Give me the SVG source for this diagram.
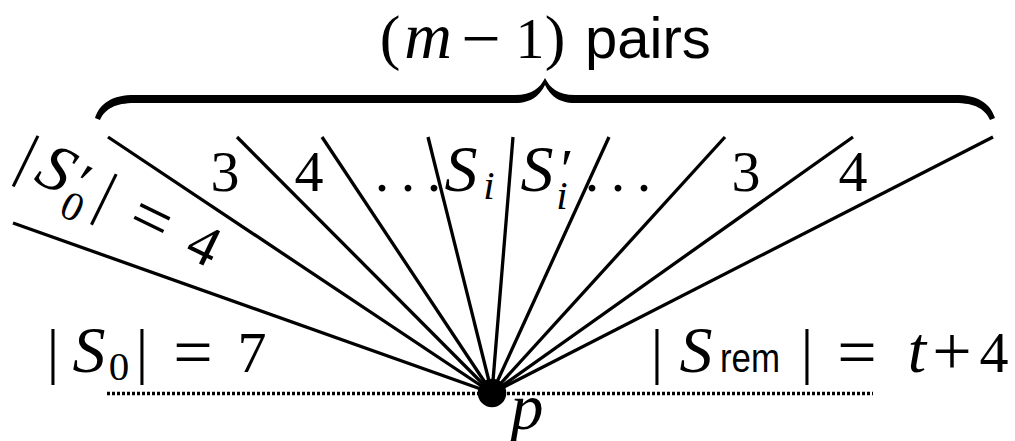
<svg xmlns="http://www.w3.org/2000/svg" width="1015" height="441" viewBox="0 0 1015 441">
<style>
.ln{stroke:#000;stroke-width:3.3;fill:none;stroke-linecap:butt}
.dot{stroke:#000;stroke-width:3.4;fill:none;stroke-dasharray:3 2}
.m{font-family:"Liberation Serif","DejaVu Serif",serif;font-size:58px;fill:#000}
.it{font-style:italic}
.big{font-size:66px}
.op{font-size:70px}
.bar{font-size:62px}
.sub{font-size:41px}
.sf{font-family:"Liberation Sans","DejaVu Sans",sans-serif;font-style:normal}
</style>
<rect width="1015" height="441" fill="#fff"/>
<g id="brace">
<path d="M95 118 C100 103 112 95 135 95 L515 95 C532 95 540 88 545 78 C550 88 558 95 575 95 L955 95 C978 95 990 103 995 118 L990 120 C985 109 975 103 955 103 L575 103 C558 103 550 95 545 85 C540 95 532 103 515 103 L135 103 C115 103 105 109 100 120 Z" fill="#000"/>
</g>
<g id="title">
<text class="m" y="58" text-anchor="middle"><tspan x="390" class="bar">(</tspan><tspan x="428" class="it big">m</tspan><tspan x="481" y="62" class="op">−</tspan><tspan x="530" y="58">1</tspan><tspan x="555" class="bar">)</tspan></text>
<text class="m sf" x="585" y="58">pairs</text>
</g>
<g id="connectors">
<line class="dot" x1="107" y1="393.5" x2="873" y2="393.5"/>
<line class="ln" x1="13" y1="223" x2="492" y2="393"/>
<line class="ln" x1="108" y1="137" x2="492" y2="393"/>
<line class="ln" x1="237" y1="137" x2="492" y2="393"/>
<line class="ln" x1="322" y1="137" x2="492" y2="393"/>
<line class="ln" x1="428" y1="137" x2="492" y2="393"/>
<line class="ln" x1="513" y1="137" x2="492" y2="393"/>
<line class="ln" x1="609" y1="137" x2="492" y2="393"/>
<line class="ln" x1="725" y1="137" x2="492" y2="393"/>
<line class="ln" x1="853" y1="137" x2="492" y2="393"/>
<line class="ln" x1="993" y1="137" x2="492" y2="393"/>
</g>
<g id="node-p">
<circle cx="492" cy="393" r="14.3" fill="#000"/>
<text class="m it big" x="527" y="429" text-anchor="middle">p</text>
</g>
<g id="sector-labels">
<text class="m" y="191" text-anchor="middle"><tspan x="225">3</tspan><tspan x="309">4</tspan><tspan x="382">.</tspan><tspan x="408">.</tspan><tspan x="434">.</tspan><tspan x="461" class="it big">S</tspan><tspan x="537" class="it big">S</tspan><tspan x="567" y="189">′</tspan><tspan x="592" y="191">.</tspan><tspan x="618">.</tspan><tspan x="644">.</tspan><tspan x="746">3</tspan><tspan x="853">4</tspan></text>
<text class="m it sub" x="489" y="199" text-anchor="middle">i</text>
<text class="m it sub" x="562" y="209" text-anchor="middle">i</text>
</g>
<g id="label-S0prime" transform="translate(19.1,174.5) rotate(26)">
<text class="m" y="0" text-anchor="middle"><tspan x="0" class="bar">|</tspan><tspan x="31" class="it big">S</tspan><tspan x="60">′</tspan><tspan x="87" class="bar">|</tspan><tspan x="138.5" y="4" class="op">=</tspan><tspan x="197" y="1">4</tspan></text>
<text class="m sub" x="62" y="19" text-anchor="middle">0</text>
</g>
<g id="label-S0">
<text class="m" y="372" text-anchor="middle"><tspan x="53" class="bar">|</tspan><tspan x="89" class="it big">S</tspan><tspan x="142" class="bar">|</tspan><tspan x="193" y="376" class="op">=</tspan><tspan x="252" y="372">7</tspan></text>
<text class="m sub" x="119" y="380" text-anchor="middle">0</text>
</g>
<g id="label-Srem">
<text class="m" y="372" text-anchor="middle"><tspan x="657" class="bar">|</tspan><tspan x="696" class="it big">S</tspan><tspan x="807" class="bar">|</tspan><tspan x="857" y="376" class="op">=</tspan><tspan x="917" y="372" class="it big">t</tspan><tspan x="952" y="375" class="op">+</tspan><tspan x="994" y="372">4</tspan></text>
<text class="m sf sub" x="720" y="372" textLength="60" lengthAdjust="spacingAndGlyphs">rem</text>
</g>
</svg>
